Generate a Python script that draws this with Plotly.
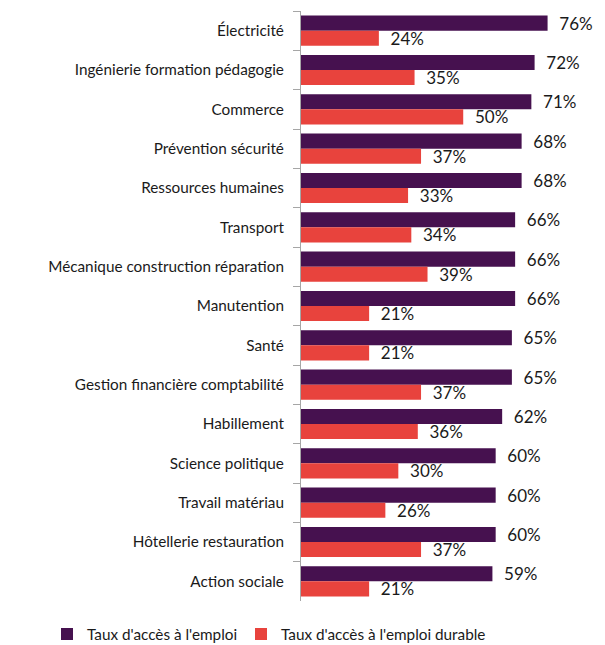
import plotly.graph_objects as go

categories = ["Électricité", "Ingénierie formation pédagogie", "Commerce", "Prévention sécurité",
              "Ressources humaines", "Transport", "Mécanique construction réparation", "Manutention",
              "Santé", "Gestion financière comptabilité", "Habillement", "Science politique",
              "Travail matériau", "Hôtellerie restauration", "Action sociale"]
acces_emploi = [76, 72, 71, 68, 68, 66, 66, 66, 65, 65, 62, 60, 60, 60, 59]
acces_durable = [24, 35, 50, 37, 33, 34, 39, 21, 21, 37, 36, 30, 26, 37, 21]
series_names = ["Taux d'accès à l'emploi", "Taux d'accès à l'emploi durable"]
colors = ["#46114f", "#e8433d"]
legends = ["legend", "legend2"]

FONT = "Lato"
TXT = "#1a1a1a"
W, H = 597, 637
fig = go.Figure()
for name, vals, col, lg in zip(series_names, [acces_emploi, acces_durable], colors, legends):
    fig.add_trace(go.Bar(
        y=categories, x=vals, name=name, orientation="h", legend=lg,
        marker=dict(color=col, line=dict(width=0)),
        text=[f"{v}%" for v in vals], textposition="outside",
        texttemplate="  %{text}", cliponaxis=False, constraintext="none",
        textfont=dict(family=FONT, size=17, color=TXT),
    ))

leg_common = dict(orientation="h", xref="container", yref="container",
                  y=11 / H, yanchor="middle", xanchor="left",
                  font=dict(family=FONT, size=15.3, color=TXT), itemwidth=30,
                  bgcolor="rgba(0,0,0,0)")
fig.update_layout(
    width=W, height=H,
    margin=dict(l=293, r=11.5, t=3, b=44, autoexpand=False),
    barmode="group", bargap=0.235, bargroupgap=0,
    plot_bgcolor="white", paper_bgcolor="white",
    font=dict(family=FONT, size=15, color=TXT),
    showlegend=True,
    legend=dict(x=39 / W, **leg_common),
    legend2=dict(x=233 / W, **leg_common),
    xaxis=dict(range=[0, 90], visible=False),
    yaxis=dict(autorange="reversed", showline=True, linecolor="#a6a6a6", linewidth=1,
               ticks="outside", tickson="boundaries", ticklen=7, tickcolor="#a6a6a6",
               ticklabelstandoff=13, automargin=False,
               showgrid=False, tickfont=dict(family=FONT, size=15.3, color=TXT)),
)
fig.write_html("out.html")
